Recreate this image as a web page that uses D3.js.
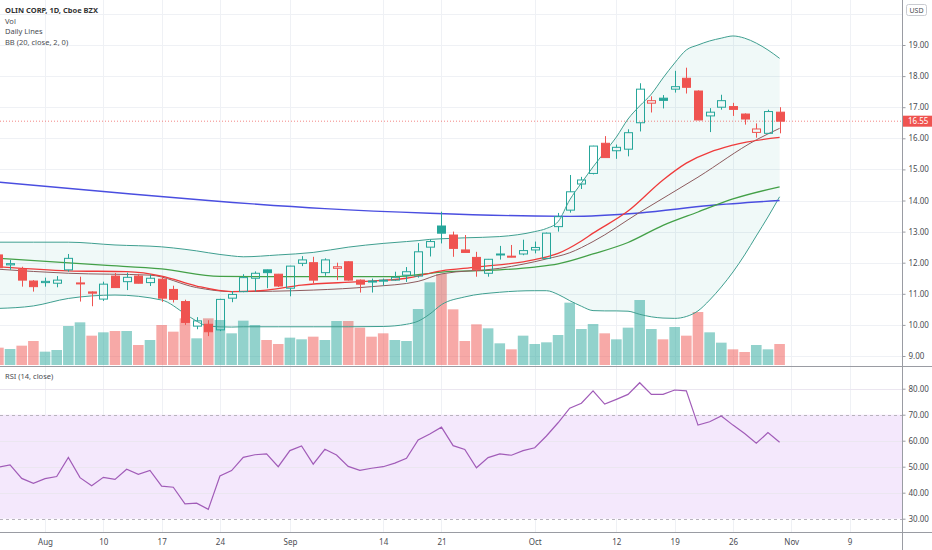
<!DOCTYPE html>
<html>
<head>
<meta charset="utf-8">
<script src="https://cdn.jsdelivr.net/npm/d3@7"></script>
<style>
  body { margin: 0; background: #fff; }
  text { font-family: "Noto Sans", sans-serif; }
</style>
</head>
<body>
<div id="chart"></div>
<script>
// ---- data (bar index 0 = Jul 28 2020 ... 67 = Oct 30 2020) ----
var opens = [12.25,11.93,11.79,11.41,11.36,11.34,11.77,11.32,11.06,10.83,
  11.57,11.39,11.57,11.36,11.47,11.14,10.75,9.96,10.02,9.84,
  10.86,11.07,11.50,11.77,11.63,11.18,11.98,12.00,11.68,11.82,
  12.03,11.44,11.41,11.44,11.44,11.60,11.57,12.50,13.18,12.89,
  12.41,12.17,11.66,12.25,12.21,12.28,12.41,12.14,13.16,13.69,
  14.53,14.87,15.84,15.60,15.65,16.50,17.13,17.29,17.58,17.93,
  17.52,16.72,17.00,17.02,16.78,16.19,16.16,16.84];
var highs = [12.32,12.09,11.87,11.44,11.52,11.57,12.28,11.55,11.08,11.39,
  11.67,11.68,11.64,11.62,11.54,11.26,10.81,10.25,10.15,10.84,
  11.09,11.63,11.72,11.78,11.64,11.90,12.21,12.19,12.14,12.00,
  12.05,11.46,11.49,11.49,11.71,11.86,12.63,12.74,13.64,13.00,
  12.89,12.35,12.12,12.54,12.57,12.74,12.68,12.97,13.60,14.82,
  14.76,15.76,16.07,15.80,16.29,17.77,17.35,17.39,18.17,18.27,
  17.54,16.97,17.40,17.14,16.80,16.48,16.92,17.00];
var lows = [11.78,11.77,11.23,11.07,11.23,11.21,11.71,10.75,10.60,10.77,
  11.19,11.12,11.33,11.25,10.74,10.72,10.00,9.86,9.64,9.80,
  10.73,11.05,11.07,11.18,11.22,10.92,11.89,11.33,11.58,11.44,
  11.42,11.04,11.04,11.26,11.42,11.38,11.52,12.20,12.62,12.19,
  12.33,11.55,11.55,12.10,12.17,12.24,12.30,12.12,13.00,13.61,
  14.37,14.84,15.38,15.34,15.42,16.22,16.83,16.96,17.47,17.44,
  16.58,16.20,16.92,16.72,16.44,16.02,16.14,16.16];
var closes = [11.84,11.97,11.44,11.23,11.40,11.44,12.14,11.35,11.02,11.31,
  11.20,11.53,11.34,11.50,10.86,10.82,10.08,10.13,9.78,10.82,
  10.98,11.52,11.66,11.68,11.25,11.89,12.09,11.44,12.09,11.87,
  11.44,11.31,11.38,11.41,11.53,11.71,12.35,12.68,12.95,12.46,
  12.33,11.77,12.11,12.28,12.19,12.39,12.49,12.95,13.48,14.28,
  14.66,15.75,15.38,15.71,16.18,17.58,17.21,17.22,17.66,17.64,
  16.59,16.84,17.21,16.93,16.62,16.30,16.86,16.55];
// volume, millions
var volumes = [1.10,1.02,1.22,1.50,0.86,0.96,2.40,2.62,1.82,2.02,
  2.10,2.10,1.26,1.56,2.46,2.06,2.86,1.66,2.86,2.76,
  1.96,2.72,2.46,1.56,1.32,1.70,1.60,1.76,1.56,2.70,
  2.70,2.30,1.76,1.96,1.56,1.50,3.42,5.02,5.52,3.40,
  1.50,2.50,2.26,1.36,1.00,1.82,1.32,1.42,1.86,3.80,
  2.22,2.52,1.96,1.60,2.30,3.96,2.22,1.60,2.34,1.82,
  3.24,2.02,1.40,1.00,0.84,1.26,1.00,1.32];
var rsi = [49.8,50.7,45.5,43.6,45.4,46.2,53.6,45.8,42.7,45.9,
  45.1,49.0,47.1,48.6,42.5,42.1,35.7,36.0,33.6,46.4,
  48.5,53.6,54.6,54.9,50.0,56.2,58.0,51.0,56.7,54.5,
  50.1,48.6,49.4,50.0,51.4,53.2,60.3,62.6,65.2,58.1,
  56.6,49.6,53.5,54.9,54.4,56.2,57.3,61.8,66.9,72.5,
  74.4,79.2,74.1,75.9,77.8,82.3,77.8,77.8,79.5,79.2,
  66.0,67.3,69.5,66.0,62.8,59.0,63.1,59.4];

// moving averages: [bar index, price]
var ma10 = [[0,11.79],[6,11.66],[13,11.60],[17,11.20],[20,11.07],[27,11.12],[32,11.23],[36,11.40],
  [38,11.64],[43,11.82],[47,12.12],[49,12.32],[51,12.68],[55,13.62],[60,14.75],[65,15.95],[67,16.32]];
var ma20 = [[0,11.87],[6,11.74],[11,11.71],[14,11.57],[17,11.25],[20,11.07],[23,11.12],[26,11.28],
  [31,11.39],[35,11.50],[38,11.74],[41,11.86],[46,12.10],[48,12.30],[50,12.70],[51,12.95],
  [54,13.66],[57,14.66],[59,15.20],[63,15.78],[67,16.03]];
var ma50 = [[0,12.14],[9,11.92],[14,11.80],[19,11.56],[27,11.55],[34,11.55],[38,11.70],[43,11.77],
  [46,11.86],[48,11.96],[51,12.28],[54,12.65],[57,13.20],[60,13.63],[63,14.05],[67,14.44]];
var ma200 = [[0,14.59],[9,14.29],[18,14.00],[28,13.74],[37,13.59],[46,13.50],[49,13.49],
  [55,13.60],[61,13.84],[67,14.00]];

// Bollinger bands (20, 2)
var bbIdx = [0,3,6,10,14,16,17,18,20,21,24,27,30,33,35,36,37,38,40,43,46,47,48,49,50,51,52,53,54,55,56,57,58,59,60,61,62,63,64,65,66,67];
var bbUpper = [12.66,12.66,12.66,12.57,12.51,12.43,12.38,12.32,12.22,12.19,12.25,12.33,12.50,12.62,12.68,12.71,12.75,12.77,12.80,12.84,
  13.00,13.10,13.32,14.02,14.56,15.08,15.56,16.04,16.62,17.04,17.42,17.94,18.42,18.84,19.00,19.13,19.22,19.29,19.22,19.06,18.84,18.57];
var bbLower = [10.53,10.61,10.85,10.96,10.80,10.36,10.12,9.96,9.93,9.94,9.94,9.94,9.94,9.95,10.02,10.12,10.35,10.65,10.90,11.05,
  11.10,11.10,10.98,10.78,10.60,10.46,10.45,10.45,10.44,10.34,10.26,10.22,10.21,10.27,10.45,10.80,11.22,11.70,12.25,12.86,13.47,14.12];

var tickIdx = [4, 9, 14, 19, 25, 33, 38, 46, 53, 58, 63, 68, 73];
var tickLabels = ["Aug", "10", "17", "24", "Sep", "14", "21", "Oct", "12", "19", "26", "Nov", "9"];
var priceTicks = [9, 10, 11, 12, 13, 14, 15, 16, 17, 18, 19];
var priceGrid = [9, 10, 11, 12, 13, 14, 15, 16, 17, 18, 19, 20];
var rsiTicks = [30, 40, 50, 60, 70, 80];
var rsiGrid = [40, 50, 60, 80];
var lastPrice = 16.55;

// ---- layout ----
var W = 932, H = 550;
var axisX = 902, priceBottom = 366, rsiTop = 367, rsiBottom = 532;
var TEAL = "#26a69a", RED = "#ef5350";

var svg = d3.select("#chart").append("svg")
    .attr("width", W).attr("height", H)
    .style("display", "block")
    .style("background", "#fff");

var x = d3.scaleLinear().domain([0, 67]).range([-1.6, 779.6]);
var y = d3.scaleLinear().domain([9, 19]).range([356, 45]);
var yVol = d3.scaleLinear().domain([0, 6]).range([priceBottom, priceBottom - 100]);
var yRsi = d3.scaleLinear().domain([30, 70]).range([518.7, 414.7]);

var defs = svg.append("defs");
defs.append("clipPath").attr("id", "clipPrice")
  .append("rect").attr("x", 0).attr("y", 0).attr("width", axisX).attr("height", priceBottom);
defs.append("clipPath").attr("id", "clipRsi")
  .append("rect").attr("x", 0).attr("y", rsiTop).attr("width", axisX).attr("height", rsiBottom - rsiTop);

// grid
var grid = svg.append("g").attr("stroke", "#eff1f5").attr("stroke-width", 1);
tickIdx.forEach(function(t){
  var gx = Math.round(x(t)) + 0.5;
  grid.append("line").attr("x1", gx).attr("x2", gx).attr("y1", 0).attr("y2", rsiBottom);
});
priceGrid.forEach(function(p){
  var gy = Math.round(y(p)) + 0.5;
  grid.append("line").attr("x1", 0).attr("x2", axisX).attr("y1", gy).attr("y2", gy);
});

// ---- price pane ----
var pane = svg.append("g").attr("clip-path", "url(#clipPrice)");

// volume
pane.append("g").selectAll("rect")
  .data(volumes)
  .enter().append("rect")
    .attr("x", function(d, i){ return x(i) - 5.3; })
    .attr("width", 10.6)
    .attr("y", function(d){ return yVol(d); })
    .attr("height", function(d){ return priceBottom - 1 - yVol(d); })
    .attr("fill", function(d, i){ return closes[i] >= opens[i] ? "rgba(38,166,154,0.5)" : "rgba(239,83,80,0.5)"; });

// bollinger fill + bands
var bbArea = d3.area()
  .x(function(d, k){ return x(bbIdx[k]); })
  .y0(function(d, k){ return y(bbLower[k]); })
  .y1(function(d){ return y(d); })
  .curve(d3.curveMonotoneX);
pane.append("path").datum(bbUpper).attr("d", bbArea).attr("fill", "rgba(0,150,136,0.06)");

var bbLine = d3.line()
  .x(function(d, k){ return x(bbIdx[k]); })
  .y(function(d){ return y(d); })
  .curve(d3.curveMonotoneX);
[bbUpper, bbLower].forEach(function(s){
  pane.append("path").datum(s).attr("d", bbLine)
    .attr("fill", "none").attr("stroke", "#3f9f90").attr("stroke-width", 1);
});

// moving averages
var maLine = d3.line()
  .x(function(d){ return x(d[0]); })
  .y(function(d){ return y(d[1]); })
  .curve(d3.curveMonotoneX);
var maStyles = [
  {data: ma200, color: "#4a4ee0", w: 1.4},
  {data: ma50, color: "#43a047", w: 1.3},
  {data: ma10, color: "#8d5b5e", w: 1},
  {data: ma20, color: "#ef3b3b", w: 1.3}
];
maStyles.forEach(function(m){
  pane.append("path").datum(m.data).attr("d", maLine)
    .attr("fill", "none").attr("stroke", m.color).attr("stroke-width", m.w);
});

// last price line
pane.append("line")
  .attr("x1", 0).attr("x2", axisX)
  .attr("y1", y(lastPrice)).attr("y2", y(lastPrice))
  .attr("stroke", RED).attr("stroke-width", 1)
  .attr("stroke-dasharray", "1,2").attr("opacity", 0.7);

// candles (hollow style)
var candles = pane.append("g");
closes.forEach(function(c, i){
  var o = opens[i], h = highs[i], l = lows[i];
  var prev = i === 0 ? o : closes[i - 1];
  var col = c >= prev ? TEAL : RED;
  var hollow = c > o;
  var cx = Math.round(x(i)) + 0.5;
  var top = y(Math.max(o, c)), bot = y(Math.min(o, c));
  if (bot - top < 1) bot = top + 1;
  candles.append("line").attr("x1", cx).attr("x2", cx)
    .attr("y1", y(h)).attr("y2", top).attr("stroke", col);
  candles.append("line").attr("x1", cx).attr("x2", cx)
    .attr("y1", bot).attr("y2", y(l)).attr("stroke", col);
  candles.append("rect")
    .attr("x", cx - 4).attr("width", 8)
    .attr("y", top).attr("height", bot - top)
    .attr("fill", hollow ? "none" : col)
    .attr("stroke", col).attr("stroke-width", 1);
});

// ---- rsi pane ----
var rp = svg.append("g").attr("clip-path", "url(#clipRsi)");
rp.append("rect")
  .attr("x", 0).attr("width", axisX)
  .attr("y", yRsi(70)).attr("height", yRsi(30) - yRsi(70))
  .attr("fill", "#f4e8fc");
rsiGrid.forEach(function(v){
  rp.append("line").attr("x1", 0).attr("x2", axisX)
    .attr("y1", Math.round(yRsi(v)) + 0.5).attr("y2", Math.round(yRsi(v)) + 0.5)
    .attr("stroke", "#ebe6f0");
});
[70, 30].forEach(function(v){
  rp.append("line").attr("x1", 0).attr("x2", axisX)
    .attr("y1", Math.round(yRsi(v)) + 0.5).attr("y2", Math.round(yRsi(v)) + 0.5)
    .attr("stroke", "#b8b3bd").attr("stroke-dasharray", "3,3");
});
rp.append("path").datum(rsi)
  .attr("d", d3.line().x(function(d, i){ return x(i); }).y(function(d){ return yRsi(d); }))
  .attr("fill", "none").attr("stroke", "#a15cb8").attr("stroke-width", 1.2);

// ---- axes ----
svg.append("line").attr("x1", 0).attr("x2", W).attr("y1", priceBottom + 0.5).attr("y2", priceBottom + 0.5)
  .attr("stroke", "#9a9ca3");
svg.append("line").attr("x1", 0).attr("x2", W).attr("y1", rsiBottom + 0.5).attr("y2", rsiBottom + 0.5)
  .attr("stroke", "#9a9ca3");
svg.append("line").attr("x1", axisX + 0.5).attr("x2", axisX + 0.5).attr("y1", 0).attr("y2", H)
  .attr("stroke", "#9a9ca3");

function styleAxis(g){
  g.select(".domain").remove();
  g.selectAll("line").attr("stroke", "#9a9ca3");
  g.selectAll("text").attr("fill", "#4a4c52").style("font-size", "8px")
    .style("font-family", "'Noto Sans', sans-serif");
}

svg.append("g").attr("transform", "translate(" + (axisX + 0.5) + ",0)")
  .call(d3.axisRight(y).tickValues(priceTicks).tickFormat(d3.format(".2f")).tickSize(3).tickPadding(3))
  .call(styleAxis);
svg.append("g").attr("transform", "translate(" + (axisX + 0.5) + ",0)")
  .call(d3.axisRight(yRsi).tickValues(rsiTicks).tickFormat(d3.format(".2f")).tickSize(3).tickPadding(3))
  .call(styleAxis);
svg.append("g").attr("transform", "translate(0," + rsiBottom + ")")
  .call(d3.axisBottom(x).tickValues(tickIdx).tickFormat(function(d, k){ return tickLabels[k]; }).tickSize(0).tickPadding(7))
  .call(styleAxis);

// last price tag
var tagY = y(lastPrice);
svg.append("rect").attr("x", axisX + 1).attr("y", tagY - 5.5).attr("width", W - axisX - 1).attr("height", 11)
  .attr("fill", RED);
svg.append("text").attr("x", axisX + 6).attr("y", tagY + 3)
  .attr("fill", "#fff").style("font-size", "8px").text(d3.format(".2f")(lastPrice));

// USD badge
svg.append("rect").attr("x", 906.5).attr("y", 4.5).attr("width", 20).attr("height", 11).attr("rx", 2)
  .attr("fill", "#fff").attr("stroke", "#c9cbd1");
svg.append("text").attr("x", 916.5).attr("y", 12.5).attr("text-anchor", "middle")
  .attr("fill", "#4a4c52").style("font-size", "7px").text("USD");

// legends
var legend = [
  {t: "OLIN CORP, 1D, Cboe BZX", y: 13, bold: true},
  {t: "Vol", y: 23.5},
  {t: "Daily Lines", y: 34},
  {t: "BB (20, close, 2, 0)", y: 44.5},
  {t: "RSI (14, close)", y: 379}
];
legend.forEach(function(d){
  svg.append("text").attr("x", 5).attr("y", d.y)
    .attr("fill", d.bold ? "#333" : "#4a4c52")
    .style("font-size", "7.5px")
    .style("font-weight", d.bold ? "bold" : "normal")
    .text(d.t);
});
</script>
</body>
</html>
